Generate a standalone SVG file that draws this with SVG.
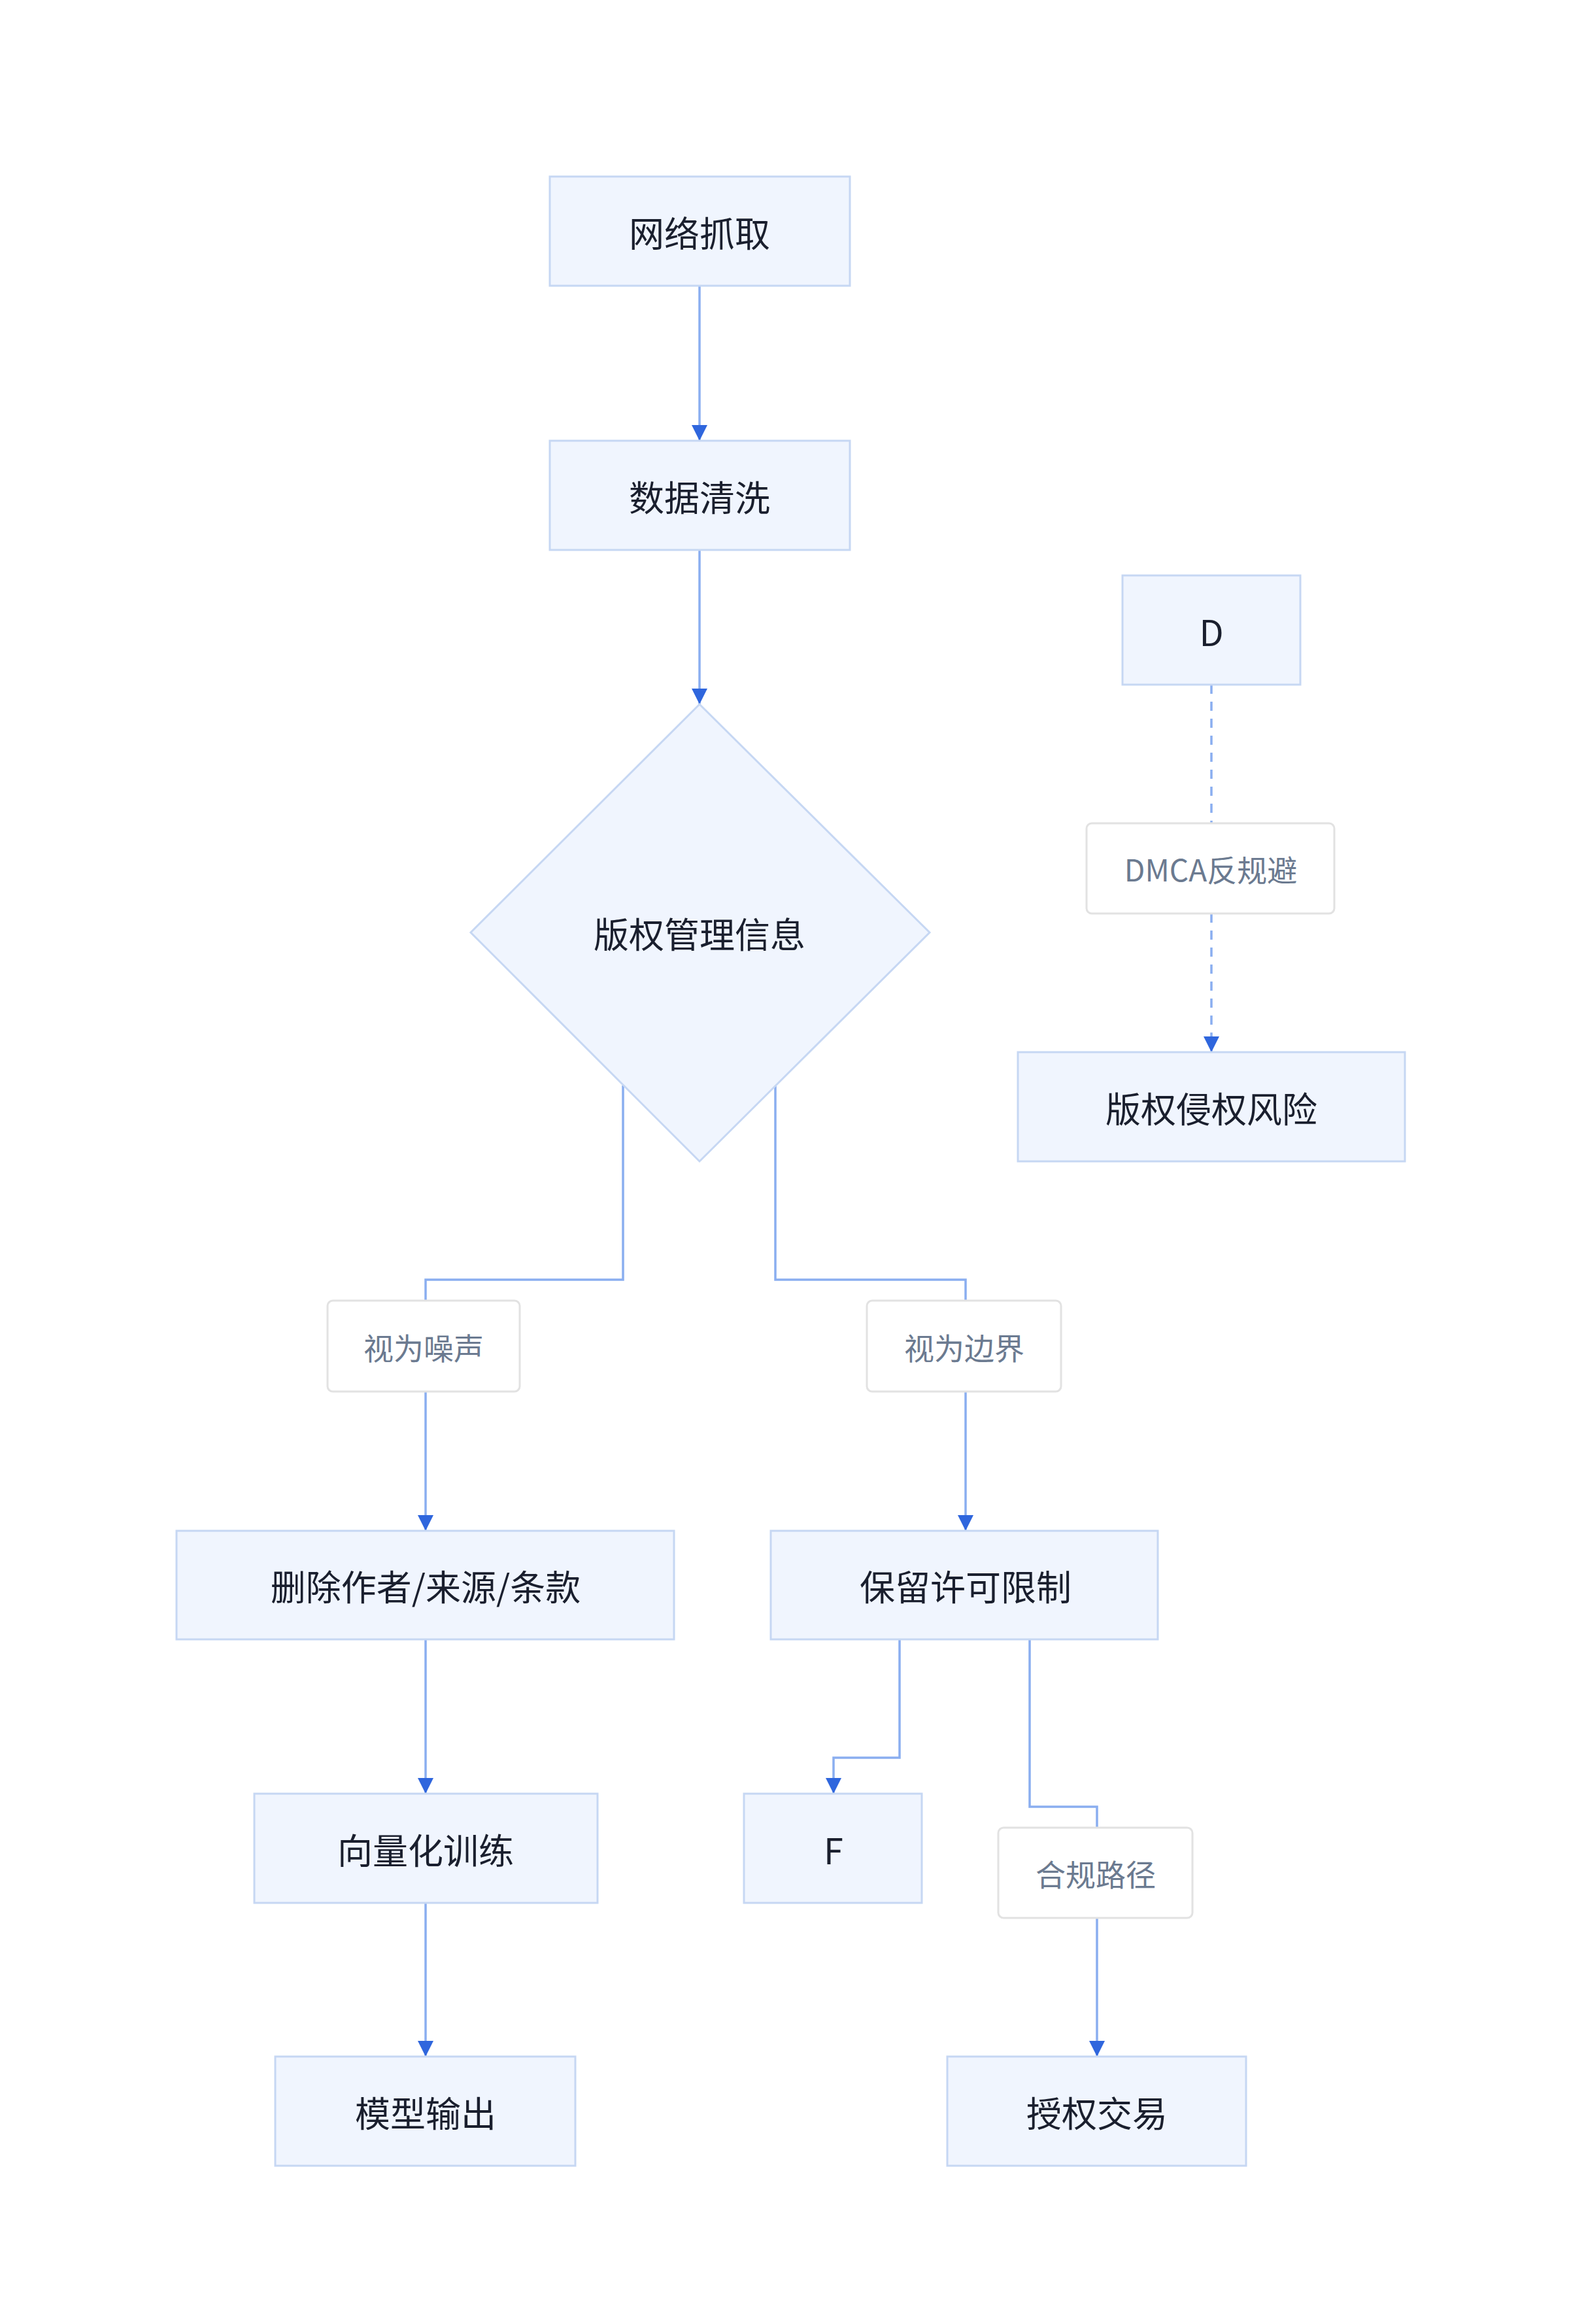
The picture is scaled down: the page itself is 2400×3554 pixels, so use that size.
<svg xmlns="http://www.w3.org/2000/svg" width="2400" height="3554" viewBox="0 0 2400 3554">
<style>
.n{fill:#f0f5fe;stroke:#c6d7f3;stroke-width:3}
.l{fill:#ffffff;stroke:#e2e2e2;stroke-width:3}
.t{font-family:"Noto Sans CJK SC","Noto Sans",sans-serif;font-size:54px;fill:#1a1f2e;text-anchor:middle;dominant-baseline:central}
.lt{font-family:"Noto Sans CJK SC","Noto Sans",sans-serif;font-size:46px;fill:#6b7a90;text-anchor:middle;dominant-baseline:central}
.c{fill:none;stroke:#8aaef0;stroke-width:3.5}
.d{stroke-dasharray:14 12}
</style>
<defs>
<marker id="a" viewBox="0 0 10 10" refX="10" refY="5" markerWidth="8" markerHeight="10" markerUnits="userSpaceOnUse" orient="auto" overflow="visible">
<path d="M-14,-12 L10,5 L-14,22" fill="none"/>
</marker>
<marker id="ar" viewBox="0 0 24 28" refX="24" refY="14" markerWidth="24" markerHeight="28" markerUnits="userSpaceOnUse" orient="auto">
<path d="M0,2 L24,14 L0,26 Z" fill="#2f66dd"/>
</marker>
</defs>
<rect width="2400" height="3554" fill="#ffffff"/>
<g id="connectors">
<path class="c" d="M1070,437 V674" marker-end="url(#ar)"/>
<path class="c" d="M1070,841 V1077" marker-end="url(#ar)"/>
<path class="c d" d="M1853,1047 V1259"/>
<path class="c d" d="M1853,1397 V1609" marker-end="url(#ar)"/>
<path class="c" d="M953,1660 V1957 H651 V1989"/>
<path class="c" d="M651,2128 V2341" marker-end="url(#ar)"/>
<path class="c" d="M1186,1660 V1957 H1477 V1989"/>
<path class="c" d="M1477,2128 V2341" marker-end="url(#ar)"/>
<path class="c" d="M651,2507 V2743" marker-end="url(#ar)"/>
<path class="c" d="M651,2910 V3145" marker-end="url(#ar)"/>
<path class="c" d="M1376,2507 V2688 H1275 V2743" marker-end="url(#ar)"/>
<path class="c" d="M1575,2507 V2763 H1678 V2795"/>
<path class="c" d="M1678,2933 V3145" marker-end="url(#ar)"/>
</g>
<g id="n1"><rect class="n" x="841" y="270" width="459" height="167"/><text class="t" x="1070" y="354">网络抓取</text></g>
<g id="n2"><rect class="n" x="841" y="674" width="459" height="167"/><text class="t" x="1070" y="758">数据清洗</text></g>
<g id="n3"><polygon class="n" points="1070,1077 1422,1426 1070,1776 720,1426"/><text class="t" x="1070" y="1426">版权管理信息</text></g>
<g id="nD"><rect class="n" x="1717" y="880" width="272" height="167"/><text class="t" x="1853" y="964">D</text></g>
<g id="lDMCA"><rect class="l" x="1662" y="1259" width="379" height="138" rx="8"/><text class="lt" x="1852" y="1328">DMCA反规避</text></g>
<g id="nRisk"><rect class="n" x="1557" y="1609" width="592" height="167"/><text class="t" x="1853" y="1693">版权侵权风险</text></g>
<g id="lNoise"><rect class="l" x="501" y="1989" width="294" height="139" rx="8"/><text class="lt" x="648" y="2059">视为噪声</text></g>
<g id="lBound"><rect class="l" x="1326" y="1989" width="297" height="139" rx="8"/><text class="lt" x="1475" y="2059">视为边界</text></g>
<g id="nDel"><rect class="n" x="270" y="2341" width="761" height="166"/><text class="t" x="651" y="2424">删除作者/来源/条款</text></g>
<g id="nKeep"><rect class="n" x="1179" y="2341" width="592" height="166"/><text class="t" x="1477" y="2424">保留许可限制</text></g>
<g id="nVec"><rect class="n" x="389" y="2743" width="525" height="167"/><text class="t" x="651" y="2827">向量化训练</text></g>
<g id="nF"><rect class="n" x="1138" y="2743" width="272" height="167"/><text class="t" x="1275" y="2827">F</text></g>
<g id="lComp"><rect class="l" x="1527" y="2795" width="297" height="138" rx="8"/><text class="lt" x="1676" y="2864">合规路径</text></g>
<g id="nOut"><rect class="n" x="421" y="3145" width="459" height="167"/><text class="t" x="651" y="3229">模型输出</text></g>
<g id="nLic"><rect class="n" x="1449" y="3145" width="457" height="167"/><text class="t" x="1678" y="3229">授权交易</text></g>
</svg>
